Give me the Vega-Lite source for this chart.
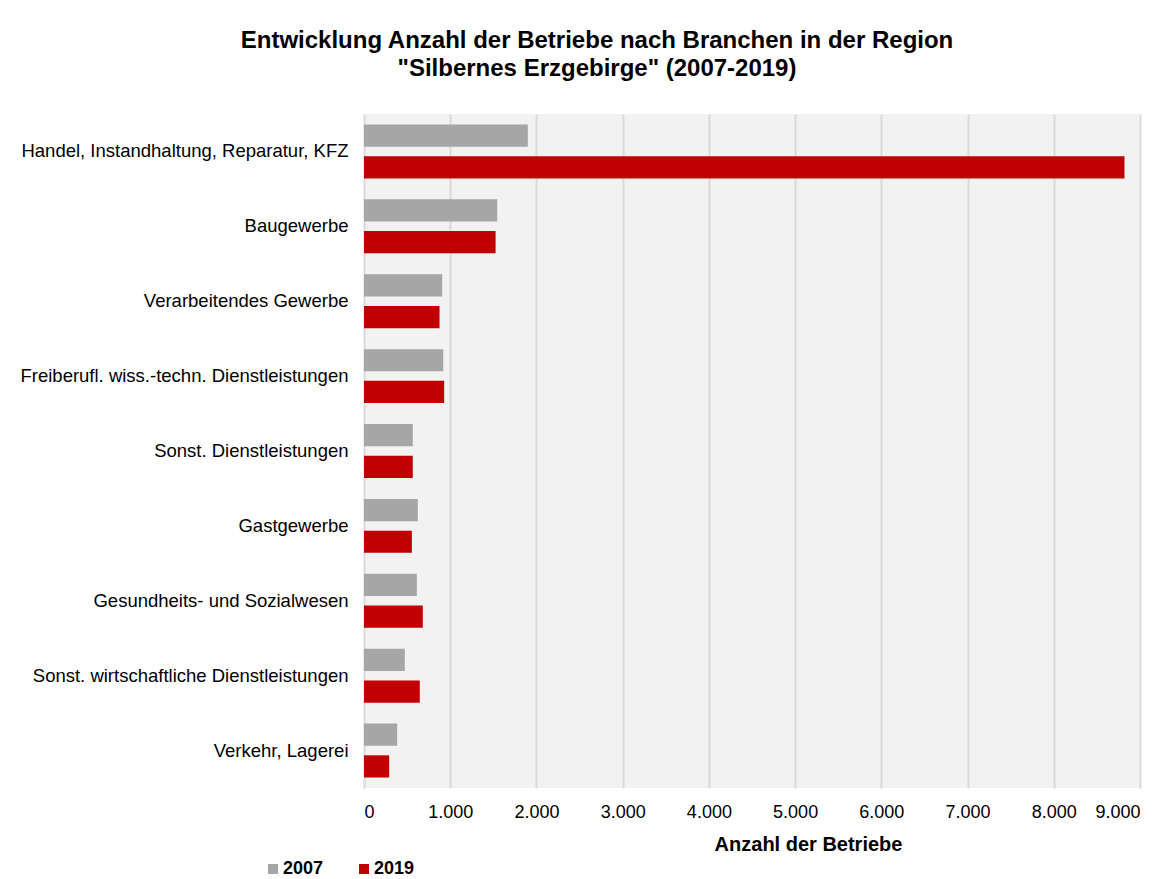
{
  "$schema": "https://vega.github.io/schema/vega-lite/v6.json",
  "width": 776,
  "height": 674,
  "autosize": {"type": "none"},
  "padding": {"left": 364, "top": 114, "right": 35, "bottom": 91},
  "background": "white",
  "title": {
    "text": ["Entwicklung Anzahl der Betriebe nach Branchen in der Region", "\"Silbernes Erzgebirge\" (2007-2019)"],
    "font": "Liberation Sans",
    "fontSize": 24,
    "fontWeight": "bold",
    "color": "#000000",
    "lineHeight": 28,
    "anchor": "middle",
    "dx": -155,
    "offset": 33
  },
  "data": {
    "values": [
      {"branche": "Handel, Instandhaltung, Reparatur, KFZ", "jahr": "2007", "anzahl": 1900},
      {"branche": "Handel, Instandhaltung, Reparatur, KFZ", "jahr": "2019", "anzahl": 8820},
      {"branche": "Baugewerbe", "jahr": "2007", "anzahl": 1545},
      {"branche": "Baugewerbe", "jahr": "2019", "anzahl": 1526},
      {"branche": "Verarbeitendes Gewerbe", "jahr": "2007", "anzahl": 907},
      {"branche": "Verarbeitendes Gewerbe", "jahr": "2019", "anzahl": 876},
      {"branche": "Freiberufl. wiss.-techn. Dienstleistungen", "jahr": "2007", "anzahl": 919},
      {"branche": "Freiberufl. wiss.-techn. Dienstleistungen", "jahr": "2019", "anzahl": 930},
      {"branche": "Sonst. Dienstleistungen", "jahr": "2007", "anzahl": 566},
      {"branche": "Sonst. Dienstleistungen", "jahr": "2019", "anzahl": 566},
      {"branche": "Gastgewerbe", "jahr": "2007", "anzahl": 624},
      {"branche": "Gastgewerbe", "jahr": "2019", "anzahl": 555},
      {"branche": "Gesundheits- und Sozialwesen", "jahr": "2007", "anzahl": 613},
      {"branche": "Gesundheits- und Sozialwesen", "jahr": "2019", "anzahl": 682},
      {"branche": "Sonst. wirtschaftliche Dienstleistungen", "jahr": "2007", "anzahl": 473},
      {"branche": "Sonst. wirtschaftliche Dienstleistungen", "jahr": "2019", "anzahl": 647},
      {"branche": "Verkehr, Lagerei", "jahr": "2007", "anzahl": 385},
      {"branche": "Verkehr, Lagerei", "jahr": "2019", "anzahl": 292}
    ]
  },
  "mark": {"type": "bar"},
  "encoding": {
    "y": {
      "field": "branche",
      "type": "nominal",
      "sort": null,
      "scale": {"paddingInner": 0.28, "paddingOuter": 0.14},
      "axis": {
        "title": null,
        "domain": false,
        "ticks": false,
        "labelFont": "Liberation Sans",
        "labelFontSize": 18.5,
        "labelColor": "#000000",
        "labelPadding": 16,
        "labelLimit": 400
      }
    },
    "yOffset": {
      "field": "jahr",
      "type": "nominal",
      "scale": {"paddingInner": 0.3, "paddingOuter": 0}
    },
    "x": {
      "field": "anzahl",
      "type": "quantitative",
      "scale": {"domain": [0, 9000], "nice": false},
      "axis": {
        "title": "Anzahl der Betriebe",
        "values": [0, 1000, 2000, 3000, 4000, 5000, 6000, 7000, 8000, 9000],
        "labelExpr": "replace(format(datum.value, ',d'), ',', '.')",
        "domain": false,
        "ticks": false,
        "grid": true,
        "gridColor": "#d9d9d9",
        "gridWidth": 2,
        "labelFont": "Liberation Sans",
        "labelFontSize": 18,
        "labelColor": "#000000",
        "labelPadding": 15,
        "titleFont": "Liberation Sans",
        "titleFontSize": 20,
        "titleFontWeight": "bold",
        "titleColor": "#000000",
        "titlePadding": 13,
        "titleX": 444
      }
    },
    "color": {
      "field": "jahr",
      "type": "nominal",
      "scale": {"domain": ["2007", "2019"], "range": ["#a6a6a6", "#c00000"]},
      "legend": {
        "title": null,
        "orient": "none",
        "direction": "horizontal",
        "legendX": -100,
        "legendY": 746,
        "symbolType": "square",
        "symbolSize": 100,
        "labelFont": "Liberation Sans",
        "labelFontSize": 18,
        "labelFontWeight": "bold",
        "labelColor": "#000000",
        "labelOffset": 1,
        "columnPadding": 31
      }
    }
  },
  "config": {
    "view": {"fill": "#f2f2f2", "stroke": null}
  }
}
